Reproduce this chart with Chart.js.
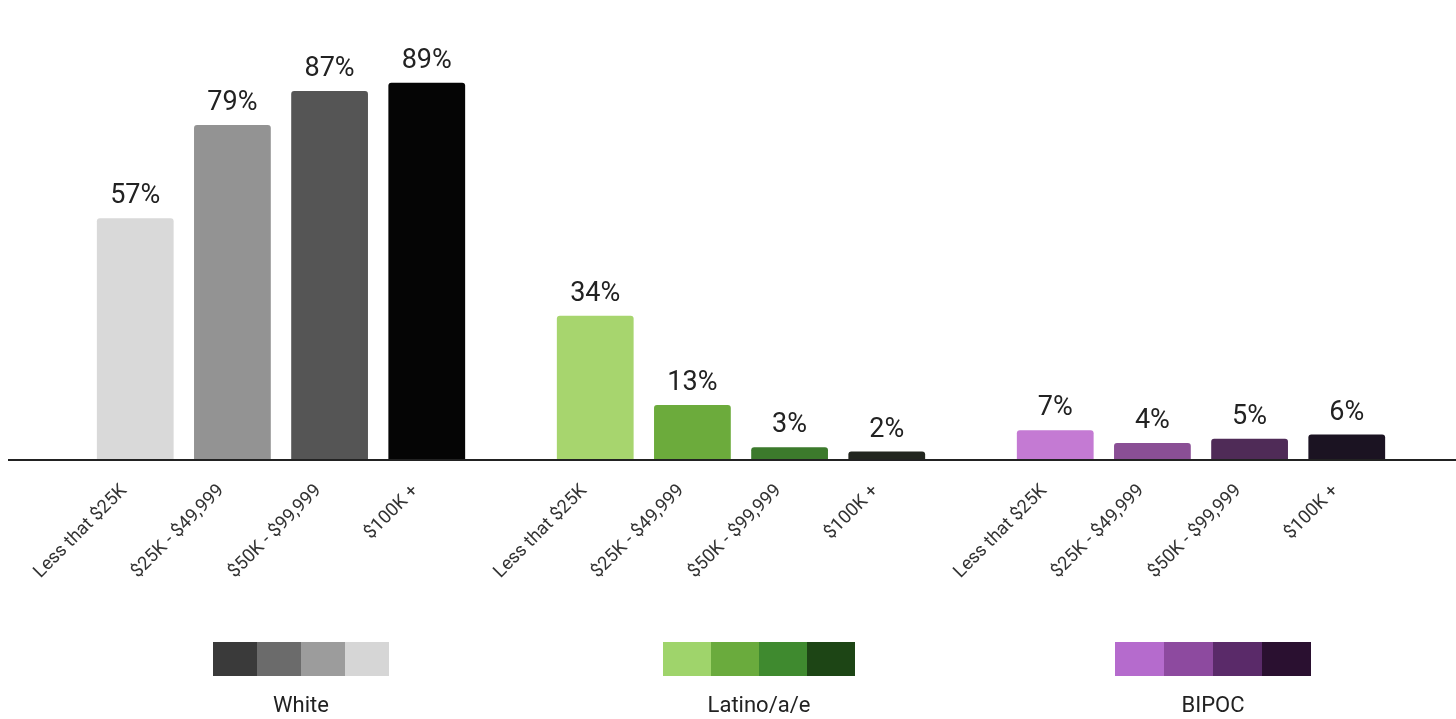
<!DOCTYPE html>
<html>
<head>
<meta charset="utf-8">
<script src="https://cdn.jsdelivr.net/npm/chart.js@4/dist/chart.umd.min.js"></script>
<style>
  html, body { margin: 0; padding: 0; background: #fff; }
  #wrap { position: relative; width: 1456px; height: 719px; }
</style>
</head>
<body>
<div id="wrap"><canvas id="myChart"></canvas></div>
<script>
// groups along the x axis
const groups = ["White", "Latino/a/e", "BIPOC"];
// income brackets (one dataset each), also used as the slanted tick labels
const brackets = ["Less that $25K", "$25K - $49,999", "$50K - $99,999", "$100K +"];
// percent values, one array per bracket, in group order
const lessThan25 = [57, 34, 7];
const from25to50 = [79, 13, 4];
const from50to100 = [87, 3, 5];
const over100 = [89, 2, 6];

// colours per bracket, per group
const barColors = [
  ["#d9d9d9", "#a7d56e", "#c47ad3"],
  ["#939393", "#6cab3c", "#8a4f95"],
  ["#555555", "#3c7a2c", "#4f2b57"],
  ["#050505", "#22261f", "#1b1322"]
];
// legend swatches (left to right)
const legendColors = [
  ["#3a3a3a", "#6b6b6b", "#9c9c9c", "#d6d6d6"],
  ["#9fd46b", "#6aab3d", "#3f8a2f", "#1d4515"],
  ["#b56bcd", "#8d4a9f", "#5a2a69", "#2a1030"]
];

let ctx = document.getElementById("myChart");

const series = [lessThan25, from25to50, from50to100, over100];

// baseline, value labels, slanted bracket labels and legend
const extras = {
  id: "extras",
  afterDatasetsDraw(chart) {
    let c = chart.ctx;
    let y0 = chart.scales.y.getPixelForValue(0);

    c.save();
    c.strokeStyle = "#222";
    c.lineWidth = 2;
    c.beginPath();
    c.moveTo(8, y0);
    c.lineTo(chart.width, y0);
    c.stroke();

    chart.data.datasets.forEach((ds, i) => {
      let meta = chart.getDatasetMeta(i);
      meta.data.forEach((bar, j) => {
        // value above the bar
        c.fillStyle = "#222";
        c.font = "27px Roboto";
        c.textAlign = "center";
        c.textBaseline = "alphabetic";
        c.fillText(ds.data[j] + "%", bar.x, bar.y - 15);

        // bracket label under the bar
        c.save();
        c.translate(bar.x - 11, y0 + 28);
        c.rotate(-Math.PI / 4);
        c.fillStyle = "#333";
        c.font = "18.5px Roboto";
        c.textAlign = "right";
        c.textBaseline = "middle";
        c.fillText(brackets[i], 0, 0);
        c.restore();
      });
    });

    // legend: 4 swatches + group name below
    let swW = [44, 48, 49];
    let shift = [20, 18, 12];
    groups.forEach((g, k) => {
      let cx = chart.scales.x.getPixelForValue(k) + shift[k];
      let w = swW[k], h = 34, top = 642;
      let left = cx - w * 2;
      legendColors[k].forEach((col, n) => {
        c.fillStyle = col;
        c.fillRect(left + n * w, top, w, h);
      });
      c.fillStyle = "#222";
      c.font = "22px Roboto";
      c.textAlign = "center";
      c.textBaseline = "alphabetic";
      c.fillText(g, cx, 712);
    });
    c.restore();
  }
};

var myChart = new Chart(ctx, {
  type: "bar",
  data: {
    labels: groups,
    datasets: brackets.map((b, i) => ({
      label: b,
      data: series[i],
      backgroundColor: barColors[i],
      borderRadius: 3,
      borderSkipped: "bottom",
      barPercentage: 0.79,
      categoryPercentage: 0.845
    }))
  },
  options: {
    responsive: true,
    maintainAspectRatio: false,
    animation: false,
    layout: { padding: { top: 36, bottom: 259, left: 51, right: 25 } },
    plugins: { legend: { display: false }, tooltip: { enabled: false } },
    scales: {
      x: { display: false },
      y: { display: false, min: 0, max: 100 }
    }
  },
  plugins: [extras]
});
</script>
</body>
</html>
